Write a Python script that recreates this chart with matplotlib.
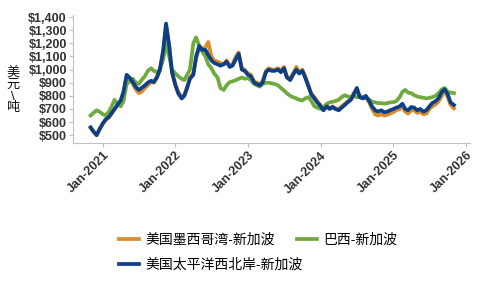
import numpy as np
import pandas as pd
import matplotlib
matplotlib.use("Agg")
import matplotlib.pyplot as plt
import matplotlib.dates as mdates
from matplotlib.ticker import FuncFormatter

plt.rcParams['font.family'] = ['Liberation Sans', 'Noto Sans CJK SC', 'DejaVu Sans']

# semi-monthly dates, Nov 2020 .. Nov 2025
dates = pd.date_range("2020-11-01", "2025-11-01", freq="SMS")

# 美国墨西哥湾-新加波
gulf = [555, 525, 505, 540,
        585, 615, 635, 665, 695, 725, 760, 820, 950, 930, 890, 850, 820, 830, 860, 880, 905, 900, 940, 995, 1140, 1340, 1170, 975,
        890, 830, 790, 810, 870, 940, 970, 1080, 1170, 1160, 1170, 1210, 1100, 1070, 1060, 1050, 1040, 1070, 1030, 1040, 1100, 1130, 1010, 1000,
        970, 960, 910, 900, 890, 910, 990, 1010, 1000, 1000, 1010, 990, 1020, 950, 930, 970, 1020, 980, 1000, 950, 880, 820, 790, 760,
        730, 700, 720, 705, 720, 705, 700, 720, 740, 755, 780, 820, 850, 800, 790, 790, 750, 700, 660, 650, 660, 650, 655, 665,
        675, 690, 700, 715, 680, 665, 690, 690, 670, 680, 660, 665, 700, 720, 735, 755, 800, 840, 790, 730, 705]

# 巴西-新加波
brazil = [650, 670, 690, 680,
          660, 650, 680, 720, 770, 740, 720, 760, 890, 910, 930, 900, 890, 920, 950, 990, 1010, 990, 980, 1000, 1080, 1200, 1100, 1000,
          970, 950, 930, 920, 960, 1000, 1200, 1245, 1180, 1140, 1100, 1040, 1010, 970, 940, 860, 845, 880, 905, 910, 920, 930, 940, 930,
          935, 920, 890, 880, 870, 890, 900, 900, 895, 890, 880, 860, 840, 820, 800, 790, 780, 770, 765, 780, 790, 760, 720, 710,
          700, 710, 740, 750, 755, 760, 770, 790, 805, 795, 790, 800, 790, 795, 790, 785, 770, 755, 750, 745, 745, 740, 745, 750,
          752, 760, 790, 830, 845, 825, 820, 805, 795, 790, 785, 780, 785, 790, 800, 820, 850, 860, 830, 825, 820]

# 美国太平洋西北岸-新加波
pnw = [560, 530, 500, 545,
       590, 620, 640, 670, 700, 730, 765, 830, 960, 940, 905, 870, 845, 860, 880, 900, 915, 905, 945, 1000, 1150, 1350, 1180, 980,
       880, 820, 780, 800, 860, 930, 960, 1100, 1180, 1150, 1150, 1110, 1070, 1050, 1040, 1030, 1040, 1060, 1020, 1030, 1080, 1120, 1000, 990,
       960, 950, 900, 890, 880, 900, 980, 1000, 990, 990, 1000, 980, 1010, 940, 920, 960, 1000, 970, 990, 940, 870, 810, 780, 750,
       720, 690, 720, 700, 715, 700, 690, 710, 730, 750, 770, 810, 860, 790, 780, 800, 760, 720, 690, 680, 690, 675, 680, 690,
       700, 710, 720, 740, 700, 690, 715, 710, 690, 700, 680, 690, 720, 745, 760, 780, 830, 850, 810, 750, 730]

labels = ["美国墨西哥湾-新加波", "美国太平洋西北岸-新加波", "巴西-新加波"]
colors = ["#D98E2B", "#0D3F87", "#6FAA3F"]

fig = plt.figure(figsize=(4.78, 2.84), dpi=100)
ax = fig.add_axes([0.153, 0.496, 0.83, 0.451])

l1, = ax.plot(dates, gulf, color=colors[0], lw=2.7, label=labels[0])
l3, = ax.plot(dates, brazil, color=colors[2], lw=2.7, label=labels[2])
l2, = ax.plot(dates, pnw, color=colors[1], lw=2.7, label=labels[1])

ax.set_ylim(440, 1415)
ax.set_yticks(range(500, 1401, 100))
ax.yaxis.set_major_formatter(FuncFormatter(lambda v, p: "${:,.0f}".format(v)))
ax.set_xlim(pd.Timestamp("2020-08-05"), pd.Timestamp("2026-01-20"))
ax.xaxis.set_major_locator(mdates.YearLocator())
ax.xaxis.set_major_formatter(mdates.DateFormatter("Jan-%Y"))

for s in ["top", "right"]:
    ax.spines[s].set_visible(False)
for s in ["left", "bottom"]:
    ax.spines[s].set_color("#BFBFBF")
ax.tick_params(axis="both", colors="#BFBFBF", length=3, labelcolor="#333333", labelsize=9, pad=1.5)
for t in ax.get_yticklabels():
    t.set_fontweight("bold")
for t in ax.get_xticklabels():
    t.set_fontweight("bold")
    t.set_rotation(45)
    t.set_ha("right")
    t.set_rotation_mode("anchor")

# stacked vertical label
fig.text(0.027, 0.68, "美\n元\n\\\n吨", fontsize=9.5, ha="center", va="center",
         linespacing=0.95, color="#111111")

leg_kw = dict(frameon=False, loc="upper left", fontsize=10, handlelength=1.4,
              handletextpad=0.5, labelspacing=0.8, borderaxespad=0)
leg1 = fig.legend(handles=[l1, l2], labels=[labels[0], labels[1]],
                  bbox_to_anchor=(0.238, 0.2), **leg_kw)
fig.legend(handles=[l3], labels=[labels[2]], bbox_to_anchor=(0.61, 0.2), **leg_kw)

fig.savefig("out.png", dpi=100)
